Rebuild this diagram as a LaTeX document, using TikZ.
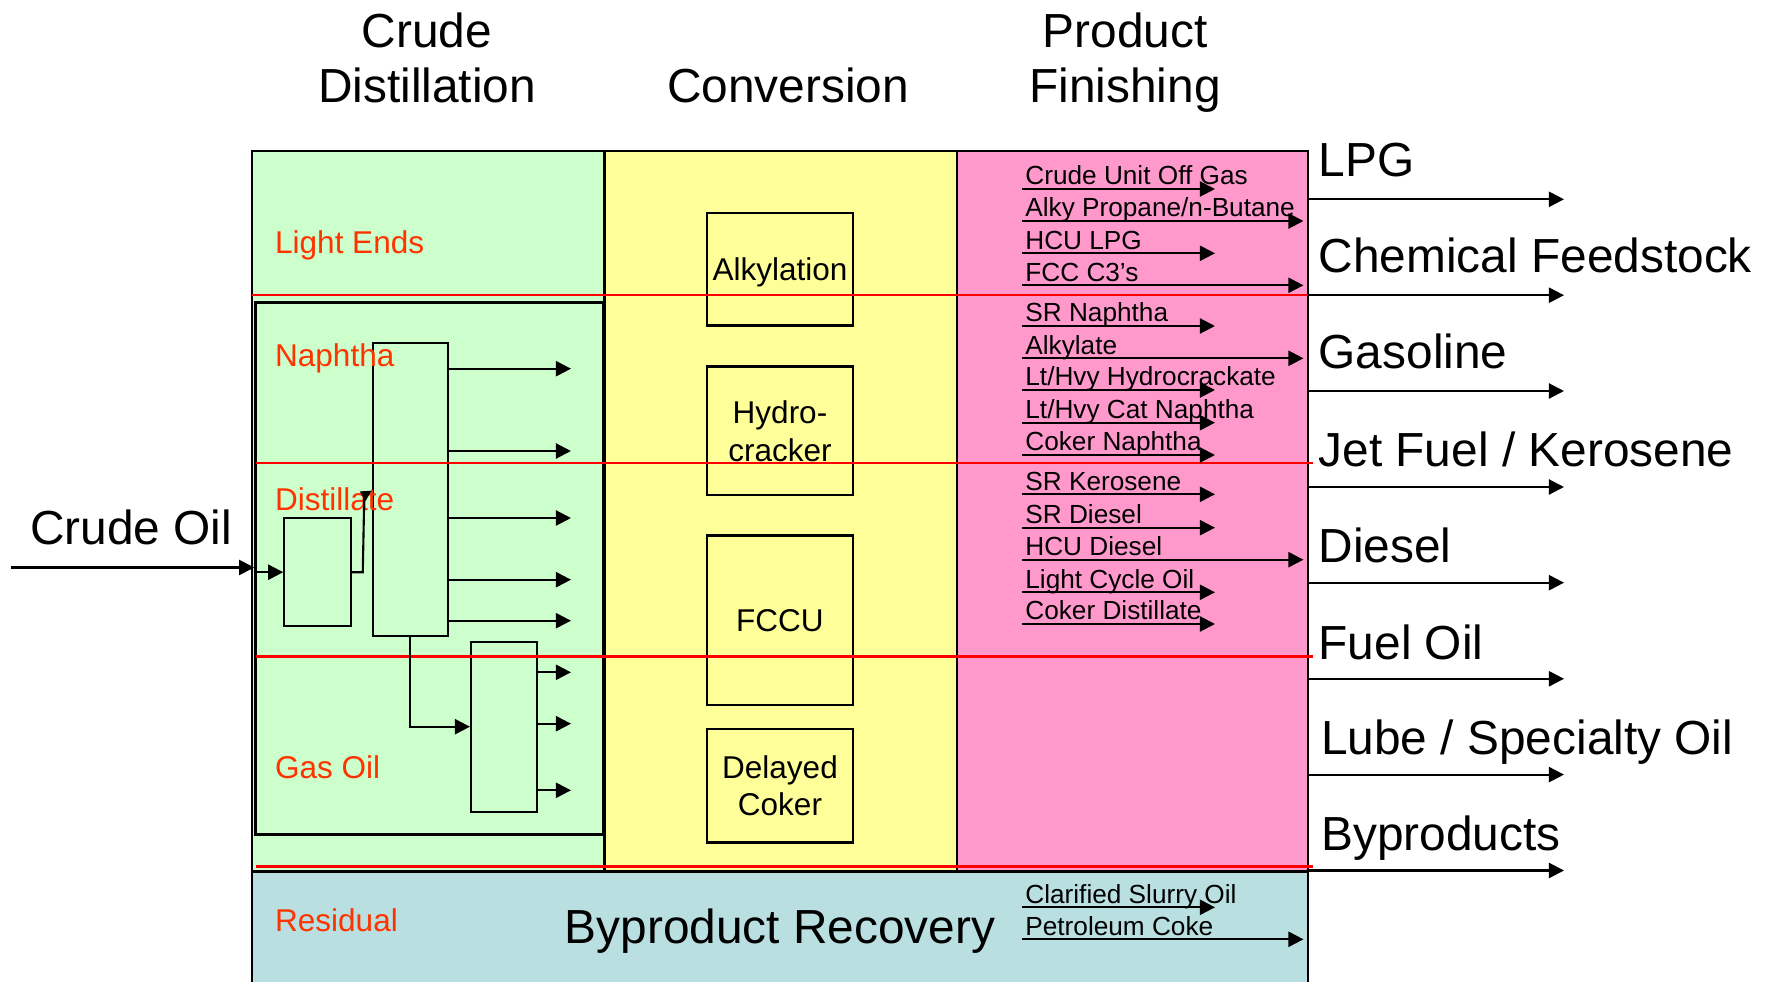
\documentclass[tikz,border=0pt]{standalone}
\usepackage{fontspec}
\setmainfont{Liberation Sans}
\usepackage{tikz}
\usetikzlibrary{arrows.meta, positioning}

\definecolor{distgreen}{RGB}{204,255,204}
\definecolor{convyellow}{RGB}{255,255,153}
\definecolor{finishpink}{RGB}{255,153,204}
\definecolor{byprodblue}{RGB}{185,223,225}
\definecolor{cutred}{RGB}{255,51,0}

\begin{document}
\begin{tikzpicture}[
        x=0.01cm, y=-0.01cm,
        % Define text sizes
        bigtext/.style={font=\fontsize{13.6}{15.9}\selectfont},
        midtext/.style={font=\fontsize{8.96}{10.64}\selectfont},
        smalltext/.style={font=\fontsize{7.45}{9}\selectfont},
        % Define styles for the boxes and lines
        unitbox/.style={draw, line width=0.7pt, fill=convyellow, midtext, align=center, inner sep=1pt, text depth=0pt, minimum width=1.454cm},
        column/.style={draw, line width=0.6pt, fill=distgreen, inner sep=0pt},
        cutlabel/.style={midtext, text=cutred, anchor=base west, inner sep=0pt},
        cutline/.style={red, line width=0.6pt},
        flow/.style={line width=0.6pt, -{Triangle[length=4.3pt, width=4.3pt]}},
        stream/.style={smalltext, anchor=south west, text depth=0pt, inner xsep=0.03cm, inner ysep=0.035cm},
        product/.style={bigtext, anchor=south west, text depth=0pt, inner xsep=0.1cm, inner ysep=0.22cm}
    ]
    \useasboundingbox (0,0) rectangle (1765,982);

    % Draw the section backgrounds
    \filldraw[fill=distgreen, line width=0.7pt] (252,151) rectangle (604.5,871.7);
    \filldraw[fill=convyellow, line width=0.7pt] (604.5,151) rectangle (957,871.7);
    \filldraw[fill=finishpink, line width=0.7pt] (957,151) rectangle (1308,871.7);
    \filldraw[fill=byprodblue, line width=0.7pt] (252,871.7) rectangle (1308,1010);

    % Column headings (base is the last line)
    \node[bigtext, align=center, anchor=base] (disthead) at (427,103) {Crude\\Distillation};
    \node[bigtext, anchor=base] (convhead) at (788,103) {Conversion};
    \node[bigtext, align=center, anchor=base] (finhead) at (1125,103) {Product\\Finishing};

    % Draw the distillation units
    \node[column, line width=0.8pt, minimum width=3.473cm, minimum height=5.32cm] (distbox) at (429.35,568.3) {};
    \node[column, minimum width=0.664cm, minimum height=1.083cm] (desalter) at (317.5,572.2) {};
    \node[column, minimum width=0.753cm, minimum height=2.933cm] (atm) at (410.4,489.4) {};
    \node[column, minimum width=0.663cm, minimum height=1.70cm] (vac) at (504.2,726.7) {};

    % Draw the conversion units
    \node[unitbox, minimum height=1.124cm] (alky) at (780,269.5) {Alkylation};
    \node[unitbox, minimum height=1.283cm] (hcu) at (780,430.9) {Hydro-\\cracker};
    \node[unitbox, minimum height=1.693cm] (fccu) at (780,620.4) {FCCU};
    \node[unitbox, minimum height=1.13cm] (coker) at (780,785.8) {Delayed\\Coker};

    % Cut lines
    \draw[cutline] (252,295) -- (1313,295);
    \draw[cutline] (256,463) -- (1313,463);
    \draw[cutline] (256,656.5) -- (1313,656.5);
    \draw[cutline] (256,866.5) -- (1313,866.5);

    % Cut names
    \node[cutlabel] (lightends) at (274.5,254) {Light Ends};
    \node[cutlabel] (naphtha) at (274.5,366.7) {Naphtha};
    \node[cutlabel] (distillate) at (274.5,510.7) {Distillate};
    \node[cutlabel] (gasoil) at (274.5,779) {Gas Oil};
    \node[cutlabel] (residual) at (274.5,931.7) {Residual};

    % Crude feed and column connections
    \node[bigtext, anchor=base west, inner sep=0pt] (crudeoil) at (29.5,545) {Crude Oil};
    \coordinate (feed) at (11,567.5);
    \draw[flow] (feed) -- (feed -| distbox.west);
    \draw[flow] (distbox.west |- desalter.west) -- (desalter.west);
    \draw[line width=0.6pt, -{Triangle[length=3pt, width=3pt]}] (desalter.east) -- ++(11,0) -- ++(1.5,-77) -- (atm.west |- 0,490.7);
    \draw[flow] (atm.south) |- (vac.west);
    \coordinate (cutend) at (571,0);
    \foreach \y in {368.7,451,518,579.7,620.7}
        \draw[flow] (atm.east |- 0,\y) -- (cutend |- 0,\y);
    \foreach \y in {672.3,723.7,790.3}
        \draw[flow] (vac.east |- 0,\y) -- (cutend |- 0,\y);

    % Blend streams in product finishing
    \coordinate (shortend) at (1215,0);
    \coordinate (longend) at (1303.5,0);
    \node[stream] (offgas) at (1021.7,189) {Crude Unit Off Gas};
    \node[stream] (alkybutane) at (1021.7,221) {Alky Propane/n-Butane};
    \node[stream] (hculpg) at (1021.7,253.3) {HCU LPG};
    \node[stream] (fccc3) at (1021.7,285.3) {FCC C3’s};
    \node[stream] (srnaphtha) at (1021.7,326) {SR Naphtha};
    \node[stream] (alkylate) at (1021.7,358.3) {Alkylate};
    \node[stream] (hydrocrackate) at (1021.7,390) {Lt/Hvy Hydrocrackate};
    \node[stream] (catnaphtha) at (1021.7,422.7) {Lt/Hvy Cat Naphtha};
    \node[stream] (cokernaphtha) at (1021.7,455) {Coker Naphtha};
    \node[stream] (srkero) at (1021.7,494.3) {SR Kerosene};
    \node[stream] (srdiesel) at (1021.7,527.7) {SR Diesel};
    \node[stream] (hcudiesel) at (1021.7,559.7) {HCU Diesel};
    \node[stream] (lco) at (1021.7,592.3) {Light Cycle Oil};
    \node[stream] (cokerdist) at (1021.7,624) {Coker Distillate};
    \node[stream] (slurry) at (1021.7,907.3) {Clarified Slurry Oil};
    \node[stream] (petcoke) at (1021.7,939.3) {Petroleum Coke};
    \foreach \s in {offgas,hculpg,srnaphtha,hydrocrackate,catnaphtha,cokernaphtha,srkero,srdiesel,lco,cokerdist,slurry}
        \draw[flow] (\s.south west) -- (\s.south west -| shortend);
    \foreach \s in {alkybutane,fccc3,alkylate,hcudiesel,petcoke}
        \draw[flow] (\s.south west) -- (\s.south west -| longend);

    \node[bigtext, anchor=base, inner sep=0pt] (recovery) at (780,944) {Byproduct Recovery};

    % Finished products
    \coordinate (prodend) at (1564,0);
    \node[product] (lpg) at (1308,199.3) {LPG};
    \node[product] (chemfeed) at (1308,295.2) {Chemical Feedstock};
    \node[product] (gasoline) at (1308,391) {Gasoline};
    \node[product, inner ysep=0.2cm] (jetfuel) at (1308,487) {Jet Fuel / Kerosene};
    \node[product, inner ysep=0.19cm] (diesel) at (1308,582.7) {Diesel};
    \node[product, inner ysep=0.19cm] (fueloil) at (1308,678.8) {Fuel Oil};
    \node[product, inner ysep=0.19cm, inner xsep=0.125cm] (lube) at (1308,774.6) {Lube / Specialty Oil};
    \node[product, inner ysep=0.19cm, inner xsep=0.125cm] (byproducts) at (1308,870.5) {Byproducts};
    \foreach \p in {lpg,chemfeed,gasoline,jetfuel,diesel,fueloil,lube,byproducts}
        \draw[flow] (\p.south west) -- (\p.south west -| prodend);

\end{tikzpicture}
\end{document}
